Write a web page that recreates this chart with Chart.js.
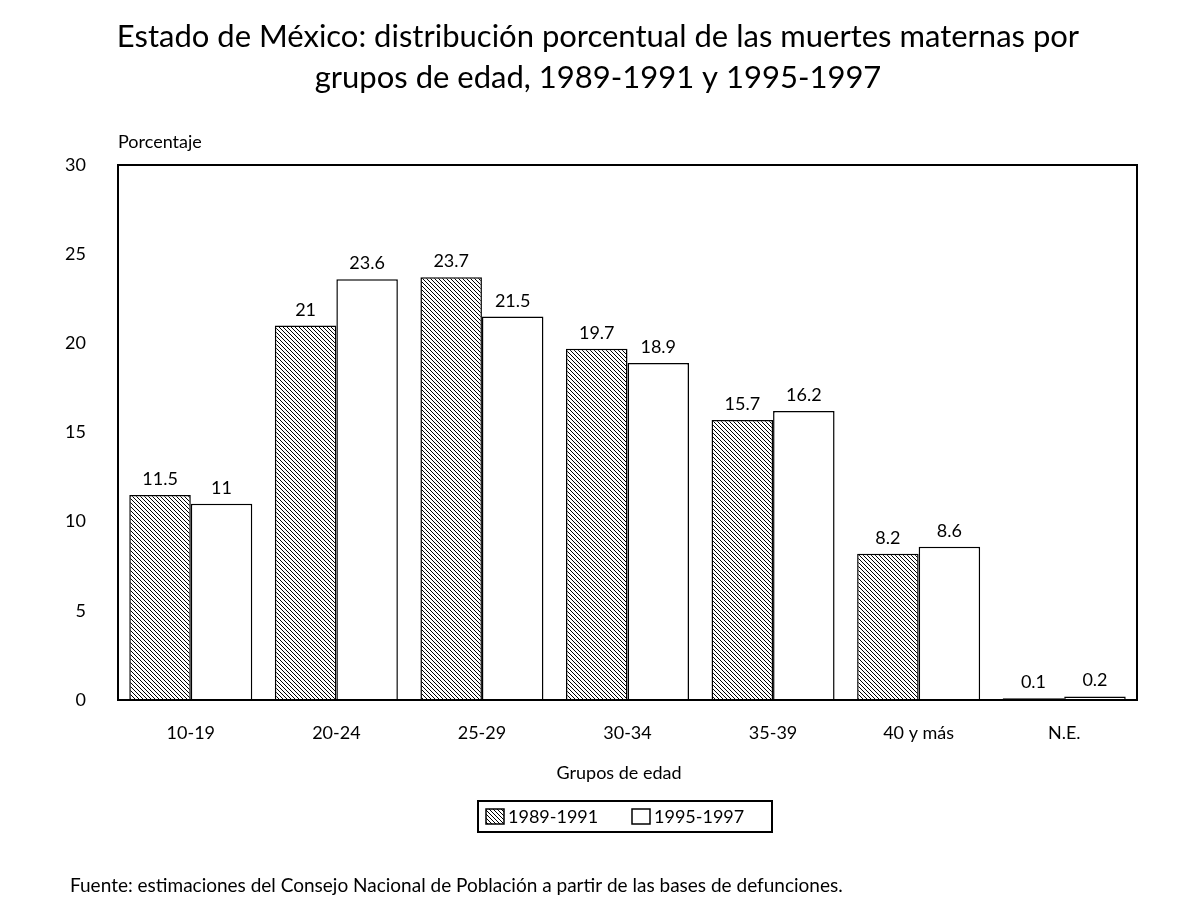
<!DOCTYPE html>
<html><head><meta charset="utf-8">
<script src="https://cdn.jsdelivr.net/npm/chart.js@4"></script>
<style>html,body{margin:0;padding:0;background:#fff;}#w{width:1200px;height:908px;position:relative}</style>
</head><body><div id="w"><canvas id="c" width="1200" height="908"></canvas></div>
<script>
const categories = ["10-19","20-24","25-29","30-34","35-39","40 y más","N.E."];
const series1989 = [11.5,21,23.7,19.7,15.7,8.2,0.1];
const series1995 = [11,23.6,21.5,18.9,16.2,8.6,0.2];
const seriesNames = ["1989-1991","1995-1997"];
const yTicks = [0,5,10,15,20,25,30];
const FONT = "Lato, 'Open Sans', sans-serif";

function hatch(){
  const p=document.createElement('canvas');p.width=4;p.height=4;
  const g=p.getContext('2d');g.fillStyle='#fff';g.fillRect(0,0,4,4);
  g.fillStyle='#000';
  for(let i=0;i<4;i++){g.fillRect(i,i,1,1);}
  return g.createPattern(p,'repeat');
}
const pat=hatch();

const deco={id:'deco',afterDraw(ch){
  const c=ch.ctx,a=ch.chartArea;
  c.save();c.strokeStyle='#000';c.lineWidth=2;
  c.strokeRect(a.left,a.top,a.right-a.left,a.bottom-a.top);
  c.fillStyle='#000';c.textAlign='center';c.textBaseline='alphabetic';
  c.font='18px '+FONT;
  ch.data.datasets.forEach((ds,di)=>{
    ch.getDatasetMeta(di).data.forEach((b,i)=>{c.fillText(String(ds.data[i]),b.x,b.y-10);});
  });
  c.font='31px '+FONT;
  c.fillText('Estado de México: distribución porcentual de las muertes maternas por',598,47);
  c.fillText('grupos de edad, 1989-1991 y 1995-1997',598,88);
  c.font='18px '+FONT;c.textAlign='left';
  c.fillText('Porcentaje',118,148);
  c.textAlign='center';
  c.fillText('Grupos de edad',619,779);
  c.lineWidth=2;c.strokeRect(478,801,294,31);
  c.lineWidth=1.5;
  c.fillStyle=pat;c.fillRect(486,809,18,15);c.strokeRect(486,809,18,15);
  c.fillStyle='#fff';c.fillRect(632,809,18,15);c.strokeRect(632,809,18,15);
  c.fillStyle='#000';c.textAlign='left';
  c.fillText(seriesNames[0],508,823);c.fillText(seriesNames[1],654,823);
  c.font='19px '+FONT;
  c.fillText('Fuente: estimaciones del Consejo Nacional de Población a partir de las bases de defunciones.',70,892);
  c.restore();
}};

new Chart(document.getElementById('c'),{
  type:'bar',
  data:{labels:categories,datasets:[
    {label:seriesNames[0],data:series1989,backgroundColor:pat,borderColor:'#000',borderWidth:1.5},
    {label:seriesNames[1],data:series1995,backgroundColor:'#fff',borderColor:'#000',borderWidth:1.5}
  ]},
  options:{responsive:false,animation:false,devicePixelRatio:1,
    layout:{padding:{top:165,right:63,left:0,bottom:0}},
    plugins:{legend:{display:false},tooltip:{enabled:false}},
    datasets:{bar:{categoryPercentage:0.845,barPercentage:1}},
    scales:{
      x:{grid:{display:false},border:{display:false},
        ticks:{color:'#000',font:{family:FONT,size:18},padding:14},
        afterFit(s){s.height=208;}},
      y:{min:0,max:30,grid:{display:false},border:{display:false},
        afterBuildTicks(s){s.ticks=yTicks.map(v=>({value:v}));},
        ticks:{color:'#000',font:{family:FONT,size:18},padding:24},
        afterFit(s){s.width=118;}}
    }
  },
  plugins:[deco]
});
</script>
</body></html>
